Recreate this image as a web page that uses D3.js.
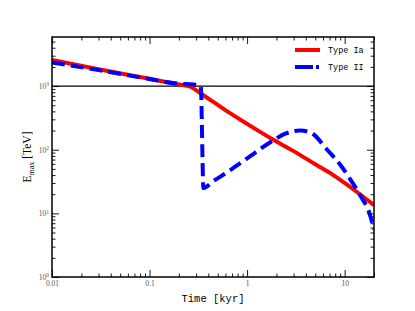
<!DOCTYPE html>
<html><head><meta charset="utf-8">
<script src="https://cdn.jsdelivr.net/npm/d3@7"></script>
<style>body{margin:0;background:#fff}</style>
</head><body><svg id="c" width="415" height="311"></svg>
<script>
// ---- data ----
const typeIaTime = [0.01, 0.03, 0.1, 0.2, 0.262, 0.35, 0.45, 0.675, 1, 1.88, 3, 5, 7.2, 10, 14, 20];
const typeIaEmax = [2560, 1840, 1300, 1060, 975, 730, 565, 372, 255, 142, 95, 59, 42.5, 30, 20.5, 13.5];
const typeIITime = [0.01, 0.03, 0.1, 0.2, 0.27, 0.31, 0.335, 0.357, 0.45, 0.63, 1, 1.88, 2.5, 3.5, 4.5, 6.65, 9.1, 11.6, 14.7, 18, 20];
const typeIIEmax = [2350, 1780, 1290, 1090, 1065, 1045, 1010, 25, 32, 44.6, 73, 142, 180, 200, 185, 99, 57, 33, 18.3, 10, 5.6];
const seriesNames = ["Type Ia", "Type II"];
const xMajorTicks = [0.01, 0.1, 1, 10];
const xTickLabels = ["0.01", "0.1", "1", "10"];
const xMinorTicks = [0.02,0.03,0.04,0.05,0.06,0.07,0.08,0.09,0.2,0.3,0.4,0.5,0.6,0.7,0.8,0.9,2,3,4,5,6,7,8,9,20];
const yMajorTicks = [1, 10, 100, 1000];
const yMinorTicks = [2,3,4,5,6,7,8,9,20,30,40,50,60,70,80,90,200,300,400,500,600,700,800,900,2000,3000,4000,5000];
const refLevel = 1000;

// ---- layout ----
const L = 52, R = 374, T = 37, B = 277;
const svg = d3.select("#c");
const x = d3.scaleLog().domain([0.01, 20]).range([L, R]);
const y = d3.scaleLog().domain([1, 5900]).range([B, T]);

svg.append("defs").append("clipPath").attr("id","clip")
  .append("rect").attr("x",L).attr("y",T).attr("width",R-L).attr("height",B-T);

const tickFont = "'Liberation Serif','DejaVu Serif',serif";
function styleAxis(g){ g.select(".domain").remove(); g.selectAll(".tick line").attr("stroke","#000").attr("stroke-width",0.9); }

// bottom
svg.append("g").attr("transform",`translate(0,${B})`)
  .call(d3.axisBottom(x).tickValues(xMajorTicks).tickSize(-7).tickPadding(4)
    .tickFormat((d,i)=>xTickLabels[i]))
  .call(styleAxis)
  .call(g=>g.selectAll("text").attr("font-family",tickFont).attr("font-size","7.5px").attr("fill","#555"));
svg.append("g").attr("transform",`translate(0,${B})`)
  .call(d3.axisBottom(x).tickValues(xMinorTicks).tickSize(-3.5).tickFormat(""))
  .call(styleAxis);
// top
svg.append("g").attr("transform",`translate(0,${T})`)
  .call(d3.axisTop(x).tickValues(xMajorTicks).tickSize(-7).tickFormat("")).call(styleAxis);
svg.append("g").attr("transform",`translate(0,${T})`)
  .call(d3.axisTop(x).tickValues(xMinorTicks).tickSize(-3.5).tickFormat("")).call(styleAxis);
// left
svg.append("g").attr("transform",`translate(${L},0)`)
  .call(d3.axisLeft(y).tickValues(yMajorTicks).tickSize(-7).tickPadding(3))
  .call(styleAxis)
  .call(g=>g.selectAll(".tick text").each(function(d){
      const t=d3.select(this);
      t.text("10").attr("font-family",tickFont).attr("font-size","7.5px").attr("fill","#555");
      t.append("tspan").attr("dy","-0.45em").attr("font-size","5.5px").text(Math.round(Math.log10(d)));
  }));
svg.append("g").attr("transform",`translate(${L},0)`)
  .call(d3.axisLeft(y).tickValues(yMinorTicks).tickSize(-3.5).tickFormat("")).call(styleAxis);
// right
svg.append("g").attr("transform",`translate(${R},0)`)
  .call(d3.axisRight(y).tickValues(yMajorTicks).tickSize(-7).tickFormat("")).call(styleAxis);
svg.append("g").attr("transform",`translate(${R},0)`)
  .call(d3.axisRight(y).tickValues(yMinorTicks).tickSize(-3.5).tickFormat("")).call(styleAxis);

// reference line
svg.append("line").attr("x1",L).attr("x2",R).attr("y1",y(refLevel)).attr("y2",y(refLevel))
  .attr("stroke","#000").attr("stroke-width",1.3);

// series
const line = d3.line().x(d=>x(d[0])).y(d=>y(d[1])).curve(d3.curveMonotoneX);
const dataIa = typeIaTime.map((t,i)=>[t,typeIaEmax[i]]);
const dataII = typeIITime.map((t,i)=>[t,typeIIEmax[i]]);
const plot = svg.append("g").attr("clip-path","url(#clip)");
plot.append("path").datum(dataIa).attr("d",line).attr("fill","none")
  .attr("stroke","#ff0000").attr("stroke-width",4);
plot.append("path").datum(dataII).attr("d",line).attr("fill","none")
  .attr("stroke","#0000ff").attr("stroke-width",4).attr("stroke-dasharray","13,6");

// frame
svg.append("rect").attr("x",L).attr("y",T).attr("width",R-L).attr("height",B-T)
  .attr("fill","none").attr("stroke","#000").attr("stroke-width",1.5);

// legend
const lg = svg.append("g");
lg.append("line").attr("x1",295).attr("x2",320).attr("y1",50).attr("y2",50)
  .attr("stroke","#ff0000").attr("stroke-width",4);
lg.append("line").attr("x1",295).attr("x2",320).attr("y1",67).attr("y2",67)
  .attr("stroke","#0000ff").attr("stroke-width",4).attr("stroke-dasharray","18,3,3,10");
const monoFont = "'Liberation Mono','DejaVu Sans Mono',monospace";
lg.append("text").attr("x",328).attr("y",53).attr("font-family",monoFont).attr("font-size","8.5px").text(seriesNames[0]);
lg.append("text").attr("x",328).attr("y",70).attr("font-family",monoFont).attr("font-size","8.5px").text(seriesNames[1]);

// axis labels
svg.append("text").attr("x",(L+R)/2).attr("y",302).attr("text-anchor","middle")
  .attr("font-family",monoFont).attr("font-size","10.5px").text("Time [kyr]");
const yl = svg.append("text").attr("transform",`translate(31,157) rotate(-90)`).attr("text-anchor","middle")
  .attr("font-family",tickFont).attr("font-size","11.5px");
yl.append("tspan").text("E");
yl.append("tspan").attr("font-size","8px").attr("dy","2.5").text("max");
yl.append("tspan").attr("dy","-2.5").text(" [TeV]");
</script></body></html>
